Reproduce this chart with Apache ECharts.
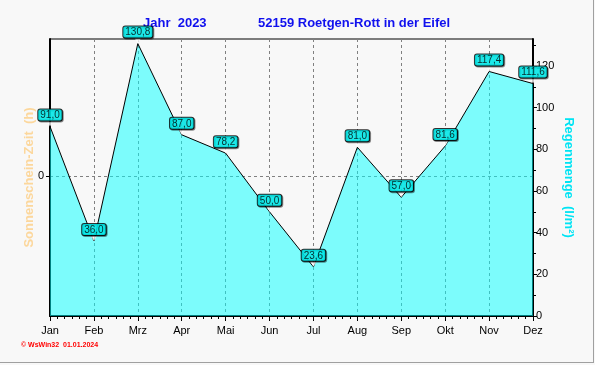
<!DOCTYPE html>
<html><head><meta charset="utf-8">
<script src="https://cdn.jsdelivr.net/npm/echarts@6/dist/echarts.min.js"></script>
<style>html,body{margin:0;padding:0;background:#f8f8f8}#c{width:595px;height:365px}</style>
</head><body><div id="c"></div>
<script>
const months = ['Jan','Feb','Mrz','Apr','Mai','Jun','Jul','Aug','Sep','Okt','Nov','Dez'];
const rain = [91.0, 36.0, 130.8, 87.0, 78.2, 50.0, 23.6, 81.0, 57.0, 81.6, 117.4, 111.6];
const rainTicks = [0, 20, 40, 60, 80, 100, 120];
const titleYear = 'Jahr  2023';
const titleStation = '52159 Roetgen-Rott in der Eifel';
const leftName = 'Sonnenschein-Zeit  (h)';
const rightName = 'Regenmenge  (l/m\u00b2)';
const footer = '\u00a9 WsWin32  01.01.2024';

const font = '"Liberation Sans", Arial, sans-serif';
const chart = echarts.init(document.getElementById('c'), null, {renderer:'canvas'});
chart.setOption({
  backgroundColor: '#f8f8f8',
  animation: false,
  textStyle: {fontFamily: font},
  grid: {left: 50, right: 62, top: 39, bottom: 49, show: true, borderColor: '#000', borderWidth: 1, backgroundColor: 'transparent'},
  xAxis: [{
    type: 'category', data: months, boundaryGap: false,
    axisLine: {onZero: false, lineStyle: {color: '#000', width: 2}},
    axisTick: {show: false},
    axisLabel: {color: '#000', fontSize: 11, margin: 9, fontFamily: font},
    splitLine: {show: true, lineStyle: {color: '#808080', type: [3, 3], width: 1}}
  }, {
    type: 'value', min: 0, max: 11, interval: 1, position: 'bottom',
    axisLine: {show: false, onZero: false},
    axisTick: {show: true, length: 5, lineStyle: {color: '#000'}},
    minorTick: {show: true, splitNumber: 6, length: 3, lineStyle: {color: '#000'}},
    axisLabel: {show: false}, splitLine: {show: false}
  }],
  yAxis: [{
    type: 'value', min: -140, max: 137, interval: 140, position: 'left',
    name: leftName, nameLocation: 'middle', nameRotate: 90, nameGap: 14, nameMoveOverlap: false,
    nameTextStyle: {color: '#fcd79c', fontSize: 13, fontWeight: 'bold', fontFamily: font},
    axisLine: {show: true, lineStyle: {color: '#000', width: 2}},
    axisTick: {show: true, length: 4, customValues: [0], lineStyle: {color: '#000'}},
    axisLabel: {color: '#000', fontSize: 11, margin: 6, customValues: [0], formatter: v => String(v)},
    splitLine: {show: true, lineStyle: {color: '#808080', type: [3, 3], width: 1}}
  }, {
    type: 'value', min: 0, max: 133, interval: 20, position: 'right',
    name: rightName, nameLocation: 'middle', nameRotate: -90, nameGap: 29, nameMoveOverlap: false,
    nameTextStyle: {color: '#00e4f4', fontSize: 13, fontWeight: 'bold', fontFamily: font},
    axisLine: {show: true, lineStyle: {color: '#000', width: 2}},
    axisTick: {show: true, length: 4, customValues: rainTicks, lineStyle: {color: '#000'}},
    minorTick: {show: true, splitNumber: 2, length: 3, lineStyle: {color: '#000'}},
    axisLabel: {color: '#000', fontSize: 11, margin: 3, customValues: rainTicks, formatter: v => String(v)},
    splitLine: {show: false}
  }],
  series: [{
    type: 'line', xAxisIndex: 0, yAxisIndex: 1, data: rain,
    symbol: 'circle', symbolSize: 1, showSymbol: true,
    itemStyle: {color: 'rgba(0,0,0,0)'},
    lineStyle: {color: '#000', width: 1},
    areaStyle: {color: '#00ffff', opacity: 0.5},
    z: 3
  }, {
    type: 'scatter', xAxisIndex: 0, yAxisIndex: 1, data: rain,
    symbol: 'triangle', symbolRotate: 180, symbolSize: [6, 5], symbolOffset: [0, -2.5],
    itemStyle: {color: '#ffffff'},
    label: {
      show: true, position: 'top', distance: 1,
      formatter: p => p.value.toFixed(1).replace('.', ','),
      color: '#000', fontSize: 10, fontFamily: font,
      backgroundColor: '#00ffff', borderColor: '#000', borderWidth: 1, borderRadius: 2,
      padding: [1, 2, 0, 2], shadowColor: 'rgba(0,0,0,0.55)', shadowOffsetX: 1, shadowOffsetY: 1, shadowBlur: 0
    },
    labelLayout: {hideOverlap: false},
    z: 4
  }],
  graphic: [
    {type: 'text', left: 143, top: 17, style: {text: titleYear, fill: '#1010ee', font: 'bold 13px ' + font}},
    {type: 'text', left: 258, top: 17, style: {text: titleStation, fill: '#1010ee', font: 'bold 13px ' + font}},
    {type: 'text', left: 21, top: 342, style: {text: footer, fill: '#ff0000', font: 'bold 7px ' + font}},
    {type: 'line', shape: {x1: 593.5, y1: 0, x2: 593.5, y2: 363}, style: {stroke: '#a0a0a0', lineWidth: 1}},
    {type: 'line', shape: {x1: 0, y1: 362.5, x2: 594, y2: 362.5}, style: {stroke: '#a0a0a0', lineWidth: 1}}
  ]
});
</script></body></html>
